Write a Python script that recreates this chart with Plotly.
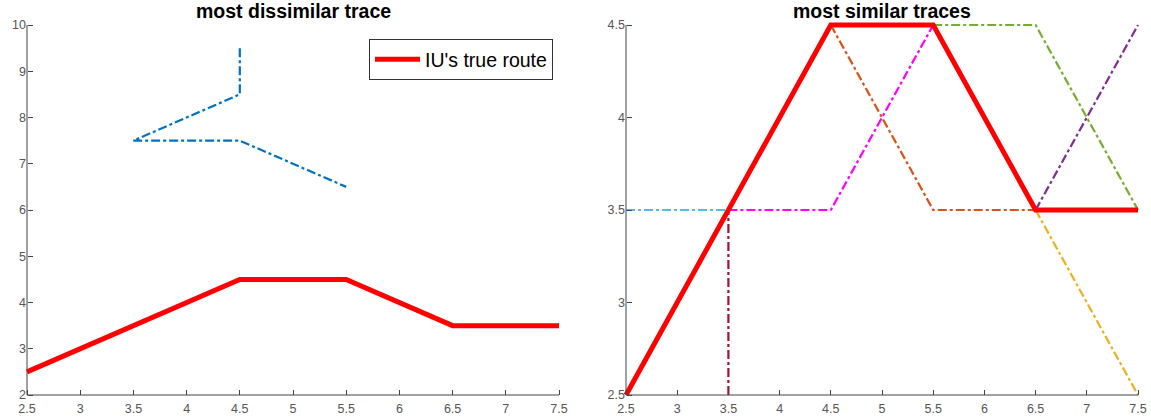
import plotly.graph_objects as go

# Left panel: most dissimilar trace
dis_x = [4.5, 4.5, 3.5, 4.5, 5.5]
dis_y = [9.5, 8.5, 7.5, 7.5, 6.5]

# True route (both panels)
true_x = [2.5, 4.5, 5.5, 6.5, 7.5]
true_y = [2.5, 4.5, 4.5, 3.5, 3.5]

# Right panel: most similar traces (segments)
sim_names = ["cyan", "darkred", "magenta", "orange", "green", "purple", "yellow"]
sim_x = [[2.5, 3.5], [3.5, 3.5], [3.5, 4.5, 5.5], [4.5, 5.5, 6.5],
         [5.5, 6.5, 7.5], [6.5, 7.5], [6.5, 7.5]]
sim_y = [[3.5, 3.5], [2.5, 3.5], [3.5, 3.5, 4.5], [4.5, 3.5, 3.5],
         [4.5, 4.5, 3.5], [3.5, 4.5], [3.5, 2.5]]
sim_colors = ["#4DBEEE", "#A2142F", "#FF00FF", "#D95319",
              "#77AC30", "#7E2F8E", "#EDB120"]

left_xticks = [2.5, 3, 3.5, 4, 4.5, 5, 5.5, 6, 6.5, 7, 7.5]
left_yticks = [2, 3, 4, 5, 6, 7, 8, 9, 10]
right_yticks = [2.5, 3, 3.5, 4, 4.5]

W, H = 1151.0, 420.0
PAD = 6              # extra px around each plot area so edge lines are not clipped
TOP, BOT = 25, 395   # axes box in px
L1, R1 = 27, 559
L2, R2 = 626, 1138
MT, MB = TOP - PAD, H - BOT - PAD
PH = H - MT - MB     # paper height in px


def px_x(p):
    return p / W


def px_y(p):
    return (H - MB - p) / PH


def ext(lo, hi, npx):
    d = (hi - lo) / npx * PAD
    return [lo - d, hi + d]


fig = go.Figure()

fig.add_trace(go.Scatter(x=dis_x, y=dis_y, mode="lines",
                         line=dict(color="#0072BD", width=2.2, dash="dashdot"),
                         showlegend=False, xaxis="x", yaxis="y"))
fig.add_trace(go.Scatter(x=true_x, y=true_y, mode="lines",
                         line=dict(color="#FF0000", width=5),
                         name="IU's true route", showlegend=True,
                         xaxis="x", yaxis="y"))

for n, xs, ys, c in zip(sim_names, sim_x, sim_y, sim_colors):
    fig.add_trace(go.Scatter(x=xs, y=ys, mode="lines",
                             line=dict(color=c, width=2.2, dash="dashdot"),
                             name=n, showlegend=False, xaxis="x2", yaxis="y2"))
fig.add_trace(go.Scatter(x=true_x, y=true_y, mode="lines",
                         line=dict(color="#FF0000", width=5),
                         showlegend=False, xaxis="x2", yaxis="y2"))

TICKFONT = dict(family="Liberation Sans, Arial", size=12.5, color="#555555")
axis_common = dict(showgrid=False, zeroline=False, showline=False,
                   ticks="inside", ticklen=5, tickcolor="#444444",
                   automargin=False, tickfont=TICKFONT)

AXC = "#444444"
TITLEFONT = dict(family="Liberation Sans, Arial", size=19.5, color="black")
fig.update_layout(
    width=1151, height=420,
    margin=dict(l=0, r=0, t=MT, b=MB),
    paper_bgcolor="white", plot_bgcolor="rgba(0,0,0,0)",
    xaxis=dict(domain=[px_x(L1 - PAD), px_x(R1 + PAD)],
               range=ext(2.5, 7.5, R1 - L1),
               tickvals=left_xticks, ticktext=[f"{v:g}" for v in left_xticks],
               anchor="free", position=px_y(BOT), ticklabelstandoff=4,
               **axis_common),
    yaxis=dict(domain=[0, 1], range=ext(2, 10, BOT - TOP),
               tickvals=left_yticks,
               anchor="free", position=px_x(L1), ticklabelstandoff=1,
               **axis_common),
    xaxis2=dict(domain=[px_x(L2 - PAD), px_x(R2 + PAD)],
                range=ext(2.5, 7.5, R2 - L2),
                tickvals=left_xticks, ticktext=[f"{v:g}" for v in left_xticks],
                anchor="free", position=px_y(BOT), ticklabelstandoff=4,
                **axis_common),
    yaxis2=dict(domain=[0, 1], range=ext(2.5, 4.5, BOT - TOP),
                tickvals=right_yticks, ticktext=[f"{v:g}" for v in right_yticks],
                anchor="free", position=px_x(L2), ticklabelstandoff=1,
                **axis_common),
    legend=dict(x=px_x(553), xanchor="right", y=px_y(39), yanchor="top",
                bordercolor="#333333", borderwidth=1, bgcolor="white",
                font=dict(family="Liberation Sans, Arial", size=19.5, color="black"),
                tracegroupgap=0, itemwidth=45),
    shapes=[
        dict(type="line", xref="paper", yref="paper",
             x0=px_x(L1), x1=px_x(L1), y0=px_y(BOT), y1=px_y(TOP),
             line=dict(color=AXC, width=1)),
        dict(type="line", xref="paper", yref="paper",
             x0=px_x(L1), x1=px_x(R1), y0=px_y(BOT), y1=px_y(BOT),
             line=dict(color=AXC, width=1)),
        dict(type="line", xref="paper", yref="paper",
             x0=px_x(L2), x1=px_x(L2), y0=px_y(BOT), y1=px_y(TOP),
             line=dict(color=AXC, width=1)),
        dict(type="line", xref="paper", yref="paper",
             x0=px_x(L2), x1=px_x(R2), y0=px_y(BOT), y1=px_y(BOT),
             line=dict(color=AXC, width=1)),
    ],
    annotations=[
        dict(text="<b>most dissimilar trace</b>", x=px_x((L1 + R1) / 2), y=px_y(TOP),
             xref="paper", yref="paper", xanchor="center", yanchor="bottom",
             yshift=1, showarrow=False, font=TITLEFONT),
        dict(text="<b>most similar traces</b>", x=px_x((L2 + R2) / 2), y=px_y(TOP),
             xref="paper", yref="paper", xanchor="center", yanchor="bottom",
             yshift=1, showarrow=False, font=TITLEFONT),
    ],
)

fig.write_html("out.html")
